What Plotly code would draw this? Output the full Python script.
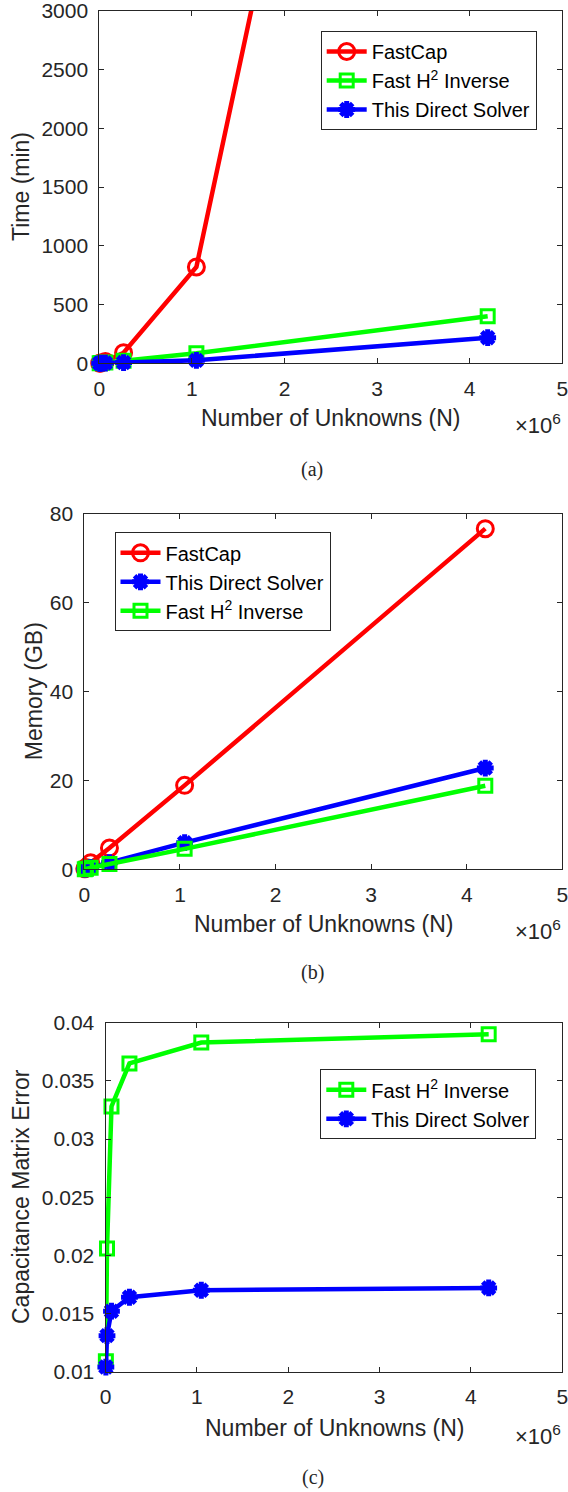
import plotly.graph_objects as go

W, H = 568, 1492

# ---------------- data ----------------
N = [4096, 16384, 65536, 262144, 1048576, 4194304]

time_fastcap = [0.5, 3, 15, 90, 820, 12400]
time_h2 = [0.3, 1.5, 6, 22, 85, 400]
time_direct = [0.1, 0.5, 2, 6, 25, 218]

mem_fastcap = [0.1, 0.4, 1.5, 4.8, 18.9, 76.7]
mem_direct = [0.03, 0.1, 0.4, 1.5, 6.0, 22.8]
mem_h2 = [0.03, 0.1, 0.35, 1.2, 4.6, 18.8]

err_h2 = [0.0109, 0.0206, 0.0328, 0.0365, 0.0383, 0.0390]
err_direct = [0.0104, 0.0131, 0.0152, 0.0164, 0.0170, 0.0172]

x_tickvals = [0, 1e6, 2e6, 3e6, 4e6, 5e6]
x_ticktext = ["0", "1", "2", "3", "4", "5"]
time_ticks = [0, 500, 1000, 1500, 2000, 2500, 3000]
mem_ticks = [0, 20, 40, 60, 80]
err_ticks = [0.01, 0.015, 0.02, 0.025, 0.03, 0.035, 0.04]
err_ticktext = ["0.01", "0.015", "0.02", "0.025", "0.03", "0.035", "0.04"]

RED, GREEN, BLUE = "#FF0000", "#00FF00", "#0000FF"
FONT = "Liberation Sans, Arial, Helvetica, sans-serif"
SERIF = "Liberation Serif, Times New Roman, serif"
AXC = "#262626"
TICK_SIZE = 21
LABEL_SIZE = 23
LEG_SIZE = 20


def px(x):
    return x / W


def py(y):
    return 1 - y / H


fig = go.Figure()


def style(name, color, kind):
    if kind == "circle":
        m = dict(symbol="circle-open", size=16, color=color, line=dict(width=3, color=color))
    elif kind == "square":
        m = dict(symbol="square-open", size=13, color=color, line=dict(width=3, color=color))
    else:
        m = dict(symbol="asterisk-open", size=14, color=color, line=dict(width=5, color=color))
    return dict(mode="lines+markers", name=name, line=dict(color=color, width=4.5), marker=m,
                cliponaxis=False)


H2 = "Fast H<sup>2</sup> Inverse"

# (a)
fig.add_trace(go.Scatter(x=N, y=time_fastcap, xaxis="x", yaxis="y", legend="legend",
                         **style("FastCap", RED, "circle")))
fig.add_trace(go.Scatter(x=N, y=time_h2, xaxis="x", yaxis="y", legend="legend",
                         **style(H2, GREEN, "square")))
fig.add_trace(go.Scatter(x=N, y=time_direct, xaxis="x", yaxis="y", legend="legend",
                         **style("This Direct Solver", BLUE, "star")))
# (b)
fig.add_trace(go.Scatter(x=N, y=mem_fastcap, xaxis="x2", yaxis="y2", legend="legend2",
                         **style("FastCap", RED, "circle")))
fig.add_trace(go.Scatter(x=N, y=mem_direct, xaxis="x2", yaxis="y2", legend="legend2",
                         **style("This Direct Solver", BLUE, "star")))
fig.add_trace(go.Scatter(x=N, y=mem_h2, xaxis="x2", yaxis="y2", legend="legend2",
                         **style(H2, GREEN, "square")))
# (c)
fig.add_trace(go.Scatter(x=N, y=err_h2, xaxis="x3", yaxis="y3", legend="legend3",
                         **style(H2, GREEN, "square")))
fig.add_trace(go.Scatter(x=N, y=err_direct, xaxis="x3", yaxis="y3", legend="legend3",
                         **style("This Direct Solver", BLUE, "star")))


def xaxis(dom, anchor):
    return dict(domain=dom, anchor=anchor, range=[0, 5e6], tickvals=x_tickvals, ticktext=x_ticktext,
                showline=True, linecolor=AXC, linewidth=1, mirror="allticks", ticks="inside",
                ticklen=5, tickcolor=AXC, showgrid=False, zeroline=False, automargin=False,
                ticklabelstandoff=6, ticklabeloverflow="allow",
                tickfont=dict(family=FONT, size=TICK_SIZE, color=AXC))


def yaxis(dom, anchor, rng, tv, tt=None):
    d = dict(domain=dom, anchor=anchor, range=rng, tickvals=tv,
             showline=True, linecolor=AXC, linewidth=1, mirror="allticks", ticks="inside",
             ticklen=5, tickcolor=AXC, showgrid=False, zeroline=False, automargin=False,
             ticklabelstandoff=6, ticklabeloverflow="allow",
             tickfont=dict(family=FONT, size=TICK_SIZE, color=AXC))
    if tt:
        d["ticktext"] = tt
    return d


# plot area pixel boxes
A = dict(l=99.3, r=562.3, t=10.7, b=363.3)
B = dict(l=84.4, r=562.3, t=514.0, b=869.3)
C = dict(l=105.5, r=562.3, t=1022.7, b=1371.7)

fig.update_layout(
    xaxis=xaxis([px(A["l"]), px(A["r"])], "y"),
    yaxis=yaxis([py(A["b"]), py(A["t"])], "x", [0, 3000], time_ticks),
    xaxis2=xaxis([px(B["l"]), px(B["r"])], "y2"),
    yaxis2=yaxis([py(B["b"]), py(B["t"])], "x2", [0, 80], mem_ticks),
    xaxis3=xaxis([px(C["l"]), px(C["r"])], "y3"),
    yaxis3=yaxis([py(C["b"]), py(C["t"])], "x3", [0.01, 0.04], err_ticks, err_ticktext),
)

leg_common = dict(bgcolor="white", bordercolor="#262626", borderwidth=1,
                  font=dict(family=FONT, size=LEG_SIZE, color="black"),
                  xanchor="left", yanchor="top", tracegroupgap=0, itemwidth=40)
fig.update_layout(
    legend=dict(x=px(320.7), y=py(31), **leg_common),
    legend2=dict(x=px(114.5), y=py(532.3), **leg_common),
    legend3=dict(x=px(320.3), y=py(1069.3), **leg_common),
)

ann = []


def add_text(x, y, text, size=LABEL_SIZE, family=FONT, angle=0, xanchor="center"):
    ann.append(dict(x=px(x), y=py(y), xref="paper", yref="paper", text=text, showarrow=False,
                    textangle=angle, xanchor=xanchor, yanchor="middle",
                    font=dict(family=family, size=size, color=AXC)))


# (a)
add_text(21, 187, "Time (min)", angle=-90)
add_text(330, 418, "Number of Unknowns (N)")
add_text(563, 424, "×10<sup>6</sup>", size=TICK_SIZE + 1, xanchor="right")
add_text(311.7, 469, "(a)", size=20, family=SERIF)
# (b)
add_text(33.5, 691.7, "Memory (GB)", angle=-90)
add_text(323.4, 924, "Number of Unknowns (N)")
add_text(563, 930, "×10<sup>6</sup>", size=TICK_SIZE + 1, xanchor="right")
add_text(312.5, 972, "(b)", size=20, family=SERIF)
# (c)
add_text(21, 1197, "Capacitance Matrix Error", angle=-90)
add_text(334, 1428, "Number of Unknowns (N)")
add_text(563, 1435, "×10<sup>6</sup>", size=TICK_SIZE + 1, xanchor="right")
add_text(312.5, 1477, "(c)", size=20, family=SERIF)

fig.update_layout(
    annotations=ann,
    width=W, height=H,
    margin=dict(l=0, r=0, t=0, b=0),
    paper_bgcolor="white", plot_bgcolor="white",
    font=dict(family=FONT, color=AXC),
)

fig.write_html("out.html", config={"displayModeBar": False},
               post_script="document.body.style.margin='0px';document.body.style.overflow='hidden';")
